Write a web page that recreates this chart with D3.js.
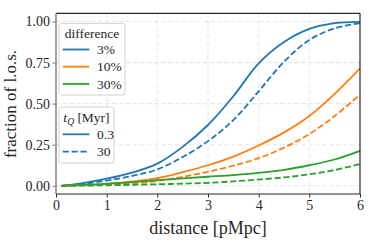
<!DOCTYPE html>
<html><head><meta charset="utf-8">
<script src="https://cdn.jsdelivr.net/npm/d3@7"></script>
<style>
html,body{margin:0;padding:0;background:#fff;}
svg{display:block;}
text{font-family:"Liberation Serif","Times New Roman",serif;fill:#262626;}
</style></head>
<body><svg id="c" width="374" height="249"></svg>
<script>
const distance = [0.1, 0.5, 1, 1.5, 2, 2.5, 3, 3.5, 4, 4.5, 5, 5.5, 6];
const blue03  = [0.0, 0.015, 0.043, 0.080, 0.135, 0.237, 0.37, 0.545, 0.745, 0.875, 0.955, 0.99, 0.998];
const blue30  = [0.0, 0.01, 0.032, 0.060, 0.100, 0.175, 0.272, 0.40, 0.575, 0.755, 0.888, 0.958, 0.99];
const orange03= [0.0, 0.004, 0.012, 0.025, 0.046, 0.083, 0.125, 0.178, 0.245, 0.325, 0.425, 0.56, 0.715];
const orange30= [0.0, 0.002, 0.007, 0.015, 0.030, 0.055, 0.085, 0.122, 0.168, 0.232, 0.315, 0.425, 0.555];
const green03 = [0.0, 0.005, 0.012, 0.022, 0.034, 0.045, 0.055, 0.065, 0.078, 0.097, 0.125, 0.16, 0.213];
const green30 = [0.0, 0.001, 0.003, 0.006, 0.009, 0.013, 0.018, 0.027, 0.038, 0.051, 0.070, 0.096, 0.132];
const differences = ["3%", "10%", "30%"];
const tQ = ["0.3", "30"];
const colors = ["#1f77b4", "#ff7f0e", "#2ca02c"];
const xTicks = [0, 1, 2, 3, 4, 5, 6];
const yTicks = [0, 0.25, 0.5, 0.75, 1.0];

const series = [
  {vals: blue03, c: 0, dash: false}, {vals: blue30, c: 0, dash: true},
  {vals: orange03, c: 1, dash: false}, {vals: orange30, c: 1, dash: true},
  {vals: green03, c: 2, dash: false}, {vals: green30, c: 2, dash: true}
];

const FONT = '"Liberation Serif","Times New Roman",serif';
const svg = d3.select("#c");
const L = 56, R = 360, T = 13.3, B = 194;
const x = d3.scaleLinear().domain([0, 6]).range([L, R]);
const y = d3.scaleLinear().domain([-0.05, 1.05]).range([B, T]);
const LW = 1.8, DASH = "6.2,2.7";

// grid
const g = svg.append("g");
g.selectAll(".gx").data(xTicks.slice(1, -1)).enter().append("line")
  .attr("x1", d => x(d)).attr("x2", d => x(d)).attr("y1", T).attr("y2", B)
  .attr("stroke", "#e6e6e6").attr("stroke-width", 1.1).attr("stroke-dasharray", "4.5,2.5");
g.selectAll(".gy").data(yTicks).enter().append("line")
  .attr("y1", d => y(d)).attr("y2", d => y(d)).attr("x1", L).attr("x2", R)
  .attr("stroke", "#e6e6e6").attr("stroke-width", 1.1).attr("stroke-dasharray", "4.5,2.5");

// lines
const line = d3.line().x((d, i) => x(distance[i])).y(d => y(d)).curve(d3.curveCatmullRom.alpha(0.5));
series.forEach(s => {
  svg.append("path").attr("d", line(s.vals)).attr("fill", "none")
    .attr("stroke", colors[s.c]).attr("stroke-width", LW)
    .attr("stroke-dasharray", s.dash ? DASH : null);
});

// axes
const xa = svg.append("g").attr("transform", `translate(0,${B})`)
  .call(d3.axisBottom(x).tickValues(xTicks).tickFormat(d3.format("d")).tickSize(3.5).tickPadding(3));
const ya = svg.append("g").attr("transform", `translate(${L},0)`)
  .call(d3.axisLeft(y).tickValues(yTicks).tickFormat(d3.format(".2f")).tickSize(3.5).tickPadding(2.5));
[xa, ya].forEach(a => {
  a.attr("font-family", FONT).attr("font-size", 14);
  a.select(".domain").remove();
  a.selectAll("text").style("font-size", "14px").attr("fill", "#262626").style("font-family", FONT);
  a.selectAll("line").attr("stroke", "#262626").attr("stroke-width", 1);
});
ya.selectAll("line").attr("stroke", "#777");

// spines
svg.append("line").attr("x1", L).attr("x2", R).attr("y1", T).attr("y2", T).attr("stroke", "#262626").attr("stroke-width", 1.2);
svg.append("line").attr("x1", R).attr("x2", R).attr("y1", T).attr("y2", B).attr("stroke", "#262626").attr("stroke-width", 1.2);
svg.append("line").attr("x1", L).attr("x2", R).attr("y1", B).attr("y2", B).attr("stroke", "#262626").attr("stroke-width", 1.2);
svg.append("line").attr("x1", L).attr("x2", L).attr("y1", T).attr("y2", B).attr("stroke", "#8c8c8c").attr("stroke-width", 1.6);

// axis labels
svg.append("text").attr("x", 208).attr("y", 233.5).attr("text-anchor", "middle")
  .style("font-size", "18px").text("distance [pMpc]");
svg.append("text").attr("transform", "translate(15.5,104) rotate(-90)").attr("text-anchor", "middle")
  .style("font-size", "17px").text("fraction of l.o.s.");

// legend 1
const l1 = svg.append("g");
l1.append("rect").attr("x", 59).attr("y", 23.3).attr("width", 66).attr("height", 71.7).attr("rx", 2.5)
  .attr("fill", "#fff").attr("fill-opacity", 0.85).attr("stroke", "#d0d0d0").attr("stroke-width", 1);
l1.append("text").attr("x", 92).attr("y", 37.5).attr("text-anchor", "middle").style("font-size", "13.5px").text("difference");
differences.forEach((d, i) => {
  const yy = 49.5 + i * 17.2;
  l1.append("line").attr("x1", 62.7).attr("x2", 89.3).attr("y1", yy).attr("y2", yy)
    .attr("stroke", colors[i]).attr("stroke-width", LW);
  l1.append("text").attr("x", 97).attr("y", yy + 4.6).style("font-size", "13.5px").text(d);
});

// legend 2
const l2 = svg.append("g");
l2.append("rect").attr("x", 59).attr("y", 107).attr("width", 55).attr("height", 56).attr("rx", 2.5)
  .attr("fill", "#fff").attr("fill-opacity", 0.85).attr("stroke", "#d0d0d0").attr("stroke-width", 1);
const tt = l2.append("text").attr("x", 86.5).attr("y", 122.3).attr("text-anchor", "middle").style("font-size", "13.5px");
tt.append("tspan").style("font-style", "italic").text("t");
tt.append("tspan").style("font-style", "italic").style("font-size", "9.5px").attr("dy", 2.5).text("Q");
tt.append("tspan").attr("dy", -2.5).text("\u00a0[Myr]");
tQ.forEach((d, i) => {
  const yy = 134.3 + i * 17.4;
  l2.append("line").attr("x1", 62.7).attr("x2", 89.3).attr("y1", yy).attr("y2", yy)
    .attr("stroke", colors[0]).attr("stroke-width", LW).attr("stroke-dasharray", i ? DASH : null);
  l2.append("text").attr("x", 97).attr("y", yy + 4.6).style("font-size", "13.5px").text(d);
});
</script></body></html>
